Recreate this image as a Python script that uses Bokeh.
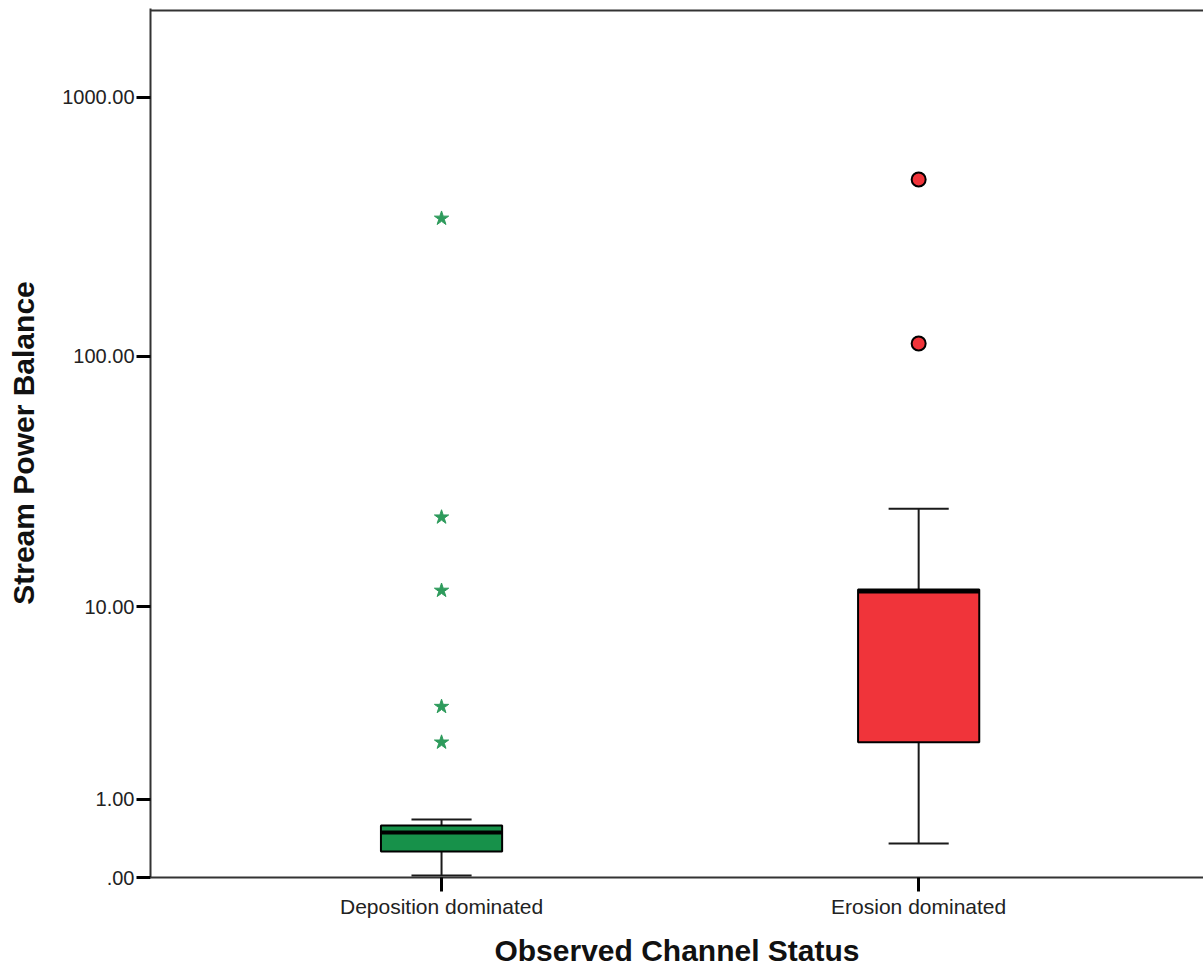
import numpy as np
from bokeh.plotting import figure
from bokeh.models import FixedTicker, Span
from bokeh.embed import file_html
from bokeh.resources import INLINE

# ---- data ----
categories = ["Deposition dominated", "Erosion dominated"]
lower_whisker = [0.018, 0.351]
q1 = [0.26, 2.31]
median = [0.49, 11.6]
q3 = [0.585, 11.8]
upper_whisker = [0.671, 25.2]
box_colors = ["#17914A", "#F0343A"]
dep_extremes = [341.6, 23.3, 11.7, 3.54, 2.31]
ero_outliers = [482.7, 112.2]
y_tick_values = [0, 1, 10, 100, 1000]
y_tick_labels = [".00", "1.00", "10.00", "100.00", "1000.00"]


def tf(v):
    # axis scale: log10(1 + value)
    return np.log10(1.0 + np.asarray(v, dtype=float))


xs = np.arange(1, len(categories) + 1, dtype=float)
half_box = 0.127
half_cap = 0.063

p = figure(frame_width=1053, frame_height=869,
           x_range=(0.390, 2.597), y_range=(0, 3.3423),
           output_backend="svg", toolbar_location=None,
           min_border_left=150, min_border_right=0,
           min_border_top=8, min_border_bottom=90)
p.outline_line_color = None
p.xgrid.grid_line_color = None
p.ygrid.grid_line_color = None
p.background_fill_color = "white"
p.border_fill_color = "white"

# whiskers
wc = "#1a1a1a"
p.segment(x0=xs, y0=tf(q3), x1=xs, y1=tf(upper_whisker), line_color=wc, line_width=2)
p.segment(x0=xs, y0=tf(q1), x1=xs, y1=tf(lower_whisker), line_color=wc, line_width=2)
p.segment(x0=xs - half_cap, y0=tf(upper_whisker), x1=xs + half_cap, y1=tf(upper_whisker),
          line_color=wc, line_width=2)
p.segment(x0=xs - half_cap, y0=tf(lower_whisker), x1=xs + half_cap, y1=tf(lower_whisker),
          line_color=wc, line_width=2)
# boxes
p.quad(left=xs - half_box, right=xs + half_box, bottom=tf(q1), top=tf(q3),
       fill_color=box_colors, line_color="black", line_width=2)
# medians
p.segment(x0=xs - half_box, y0=tf(median), x1=xs + half_box, y1=tf(median),
          line_color="black", line_width=4)

# outliers
p.scatter(x=[xs[0]] * len(dep_extremes), y=tf(dep_extremes), marker="star", size=15,
          fill_color="#2E9B5C", line_color="#2E9B5C", line_width=1)
p.scatter(x=[xs[1]] * len(ero_outliers), y=tf(ero_outliers), marker="circle", size=14,
          fill_color="#F0343A", line_color="black", line_width=2)

# top frame line
p.add_layout(Span(location=3.335, dimension="width", line_color="#333333", line_width=2))

# axes
for ax in (p.xaxis[0], p.yaxis[0]):
    ax.axis_line_color = "#333333"
    ax.axis_line_width = 2
    ax.major_tick_line_color = "black"
    ax.major_tick_line_width = 3
    ax.major_tick_in = 0
    ax.major_tick_out = 14
    ax.minor_tick_line_color = None
    ax.major_label_text_font = "Liberation Sans"
    ax.major_label_text_color = "#222222"
    ax.axis_label_text_font = "Liberation Sans"
    ax.axis_label_text_font_style = "bold"
    ax.axis_label_text_color = "#111111"

p.xaxis.ticker = FixedTicker(ticks=list(xs))
p.xaxis.major_label_overrides = {int(x): c for x, c in zip(xs, categories)}
p.xaxis.major_label_text_font_size = "21px"
p.xaxis.major_label_standoff = 3
p.xaxis.axis_label = "Observed Channel Status"
p.xaxis.axis_label_text_font_size = "30px"
p.xaxis.axis_label_standoff = 13

yt = [float(t) for t in tf(y_tick_values)]
p.yaxis.ticker = FixedTicker(ticks=yt)
p.yaxis.major_label_overrides = {t: lab for t, lab in zip(yt, y_tick_labels)}
p.yaxis.major_label_text_font_size = "20px"
p.yaxis.major_label_standoff = 2
p.yaxis.axis_label = "Stream Power Balance"
p.yaxis.axis_label_text_font_size = "30px"
p.yaxis.axis_label_standoff = 19

open("out.html", "w").write(file_html(p, INLINE))
